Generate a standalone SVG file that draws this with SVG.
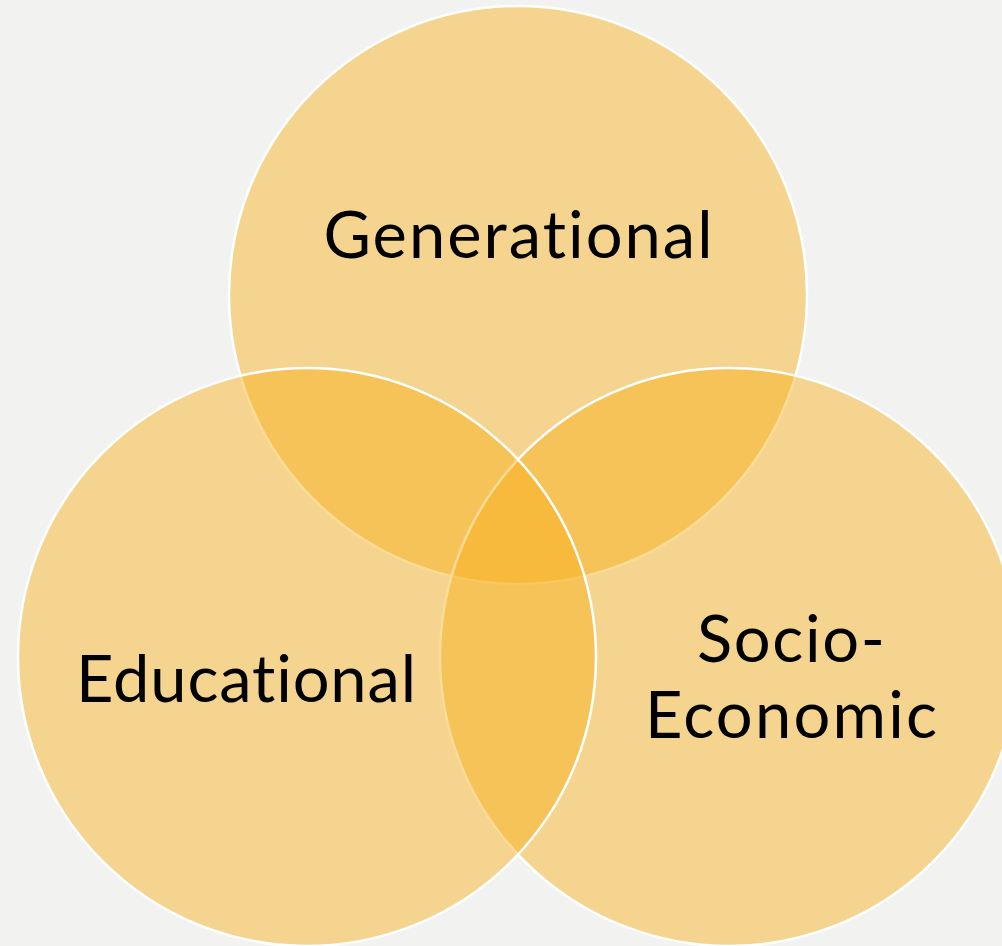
<svg xmlns="http://www.w3.org/2000/svg" width="1002" height="946" viewBox="0 0 1002 946">
<style>
.c{fill:rgb(248,176,24);fill-opacity:0.45;stroke:#ffffff;stroke-width:2.5}
.t{font-family:Lato,"Noto Sans",sans-serif;font-size:65px;fill:#000000;text-anchor:middle;font-variant-ligatures:none}
</style>
<rect width="1002" height="946" fill="#f2f2f0"/>
<g id="generational"><circle class="c" cx="518" cy="295" r="289"/></g>
<g id="socio-economic"><circle class="c" cx="729" cy="657" r="289"/></g>
<g id="educational"><circle class="c" cx="307" cy="657" r="289"/></g>
<g id="labels">
<text class="t" x="518" y="258" textLength="389" lengthAdjust="spacing">Generational</text>
<text class="t" x="246" y="702" textLength="340" lengthAdjust="spacing">Educational</text>
<text class="t" x="791" y="662" textLength="188" lengthAdjust="spacing">Socio-</text>
<text class="t" x="791" y="738" textLength="292" lengthAdjust="spacing">Economic</text>
</g>
</svg>
